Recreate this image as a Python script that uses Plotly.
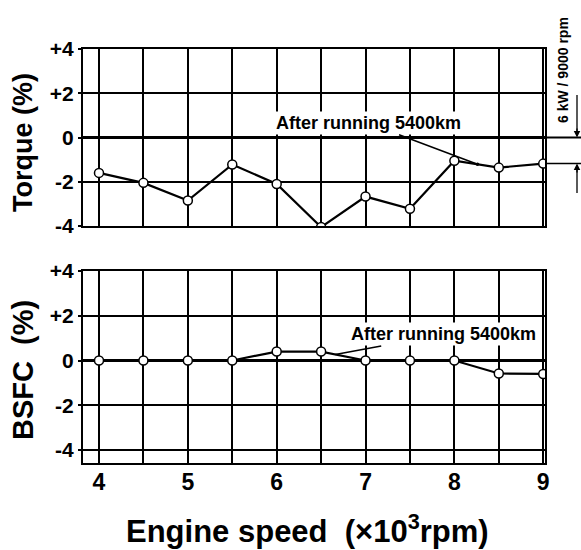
import plotly.graph_objects as go

# ---- data ----
engine_speed = [4, 4.5, 5, 5.5, 6, 6.5, 7, 7.5, 8, 8.5, 9]
torque_pct = [-1.6, -2.05, -2.85, -1.22, -2.1, -4.05, -2.67, -3.22, -1.05, -1.36, -1.18]
bsfc_pct = [0, 0, 0, 0, 0.4, 0.4, 0, 0, 0, -0.58, -0.6]

x_grid_vals = [4, 4.5, 5, 5.5, 6, 6.5, 7, 7.5, 8, 8.5, 9]
x_grid_text = ["4", "", "5", "", "6", "", "7", "", "8", "", "9"]
y_tick_vals = [-4, -2, 0, 2, 4]
y_tick_text = ["-4", "-2", "0", "+2", "+4"]

annot_text = "After running 5400km"
rating_text = "6 kW / 9000 rpm"

# the page body margin is removed (see post_script), so the figure fills the 581x550 window
OX, OY = 0, 0
W, H = 581 - OX, 550 - OY


def px(x):
    return (x - OX) / W


def py(y):
    return (H - (y - OY)) / H


FONT = "Liberation Sans, Arial, sans-serif"

fig = go.Figure()

marker = dict(symbol="circle", size=9, color="white", line=dict(color="black", width=1.5))
fig.add_trace(go.Scatter(x=engine_speed, y=torque_pct, mode="lines+markers",
                         line=dict(color="black", width=2.2), marker=marker,
                         xaxis="x", yaxis="y", showlegend=False))
fig.add_trace(go.Scatter(x=engine_speed, y=bsfc_pct, mode="lines+markers",
                         line=dict(color="black", width=2.2), marker=marker,
                         xaxis="x2", yaxis="y2", showlegend=False))

xdom = [px(83), px(545)]
common_x = dict(domain=xdom, range=[3.82, 9.02], tickvals=x_grid_vals, ticktext=x_grid_text,
                showgrid=True, gridcolor="black", gridwidth=1.5, zeroline=False,
                showline=True, mirror=True, linecolor="black", linewidth=2, ticks="",
                automargin=False, ticklabelstandoff=-3,
                tickfont=dict(family=FONT, size=23, color="black", weight="bold"))
common_y = dict(tickvals=y_tick_vals, ticktext=y_tick_text,
                showgrid=True, gridcolor="black", gridwidth=1.5,
                zeroline=True, zerolinecolor="black", zerolinewidth=2.5,
                showline=True, mirror=True, linecolor="black", linewidth=2,
                ticks="outside", ticklen=3, tickwidth=1.5, tickcolor="black",
                automargin=False,
                tickfont=dict(family=FONT, size=21, color="black", weight="bold"))

fig.update_layout(
    width=W, height=H, margin=dict(l=0, r=0, t=0, b=0, autoexpand=False),
    paper_bgcolor="white", plot_bgcolor="white",
    xaxis=dict(**common_x, anchor="y", showticklabels=False),
    yaxis=dict(**common_y, anchor="x", domain=[py(226), py(49)], range=[-4, 4]),
    xaxis2=dict(**common_x, anchor="y2", showticklabels=True),
    yaxis2=dict(**common_y, anchor="x2", domain=[py(463), py(271)], range=[-4.58, 4]),
)

annotations = []
# axis titles
annotations.append(dict(text="Torque (%)", xref="paper", yref="paper", x=px(23), y=py(143),
                        xanchor="center", yanchor="middle", textangle=-90, showarrow=False,
                        font=dict(family=FONT, size=27, color="black", weight="bold")))
annotations.append(dict(text="BSFC  (%)", xref="paper", yref="paper", x=px(23), y=py(370),
                        xanchor="center", yanchor="middle", textangle=-90, showarrow=False,
                        font=dict(family=FONT, size=29, color="black", weight="bold")))
annotations.append(dict(text="Engine speed  (×10<sup>3</sup>rpm)", xref="paper", yref="paper",
                        x=px(307), y=py(529), xanchor="center", yanchor="middle", showarrow=False,
                        font=dict(family=FONT, size=31, color="black", weight="bold")))
# leader annotations
annotations.append(dict(text=annot_text, x=8.26, y=-1.21, xref="x", yref="y",
                        ax=-109, ay=-41, showarrow=True, arrowhead=6, arrowsize=0.6,
                        arrowwidth=1.5, arrowcolor="black", bgcolor="white",
                        font=dict(family=FONT, size=18, color="black", weight="bold")))
annotations.append(dict(text=annot_text, x=6.66, y=0.27, xref="x2", yref="y2",
                        ax=108, ay=-20, showarrow=True, arrowhead=0,
                        arrowwidth=1.5, arrowcolor="black", bgcolor="white",
                        font=dict(family=FONT, size=18, color="black", weight="bold")))
# rating indicator
annotations.append(dict(text=rating_text, xref="paper", yref="paper", x=px(563), y=py(70),
                        xanchor="center", yanchor="middle", textangle=-90, showarrow=False,
                        font=dict(family=FONT, size=14, color="black", weight="bold")))
# arrowheads of the rating indicator
annotations.append(dict(text=" ", xref="paper", yref="y", x=px(577), y=0, ax=0, ay=-12,
                        showarrow=True, arrowhead=2, arrowsize=1, arrowwidth=1.3,
                        arrowcolor="black", font=dict(size=2)))
annotations.append(dict(text=" ", xref="paper", yref="y", x=px(577), y=torque_pct[-1], ax=0, ay=12,
                        showarrow=True, arrowhead=2, arrowsize=1, arrowwidth=1.3,
                        arrowcolor="black", font=dict(size=2)))
fig.update_layout(annotations=annotations)

shapes = [
    dict(type="line", xref="paper", yref="y", x0=px(545), x1=px(581), y0=0, y1=0,
         line=dict(color="black", width=2)),
    dict(type="line", xref="paper", yref="y", x0=px(545), x1=px(581),
         y0=torque_pct[-1], y1=torque_pct[-1], line=dict(color="black", width=1.5)),
    # vertical leader lines of the rating indicator
    dict(type="line", xref="paper", yref="paper", x0=px(577), x1=px(577), y0=py(95), y1=py(134),
         line=dict(color="black", width=1.3)),
    dict(type="line", xref="paper", yref="paper", x0=px(577), x1=px(577), y0=py(170), y1=py(193),
         line=dict(color="black", width=1.3)),
]
fig.update_layout(shapes=shapes)

fig.write_html(
    "out.html",
    config={"displayModeBar": False},
    post_script=("document.documentElement.style.margin='0';"
                 "document.body.style.margin='0';"
                 "document.body.style.overflow='hidden';"),
)
